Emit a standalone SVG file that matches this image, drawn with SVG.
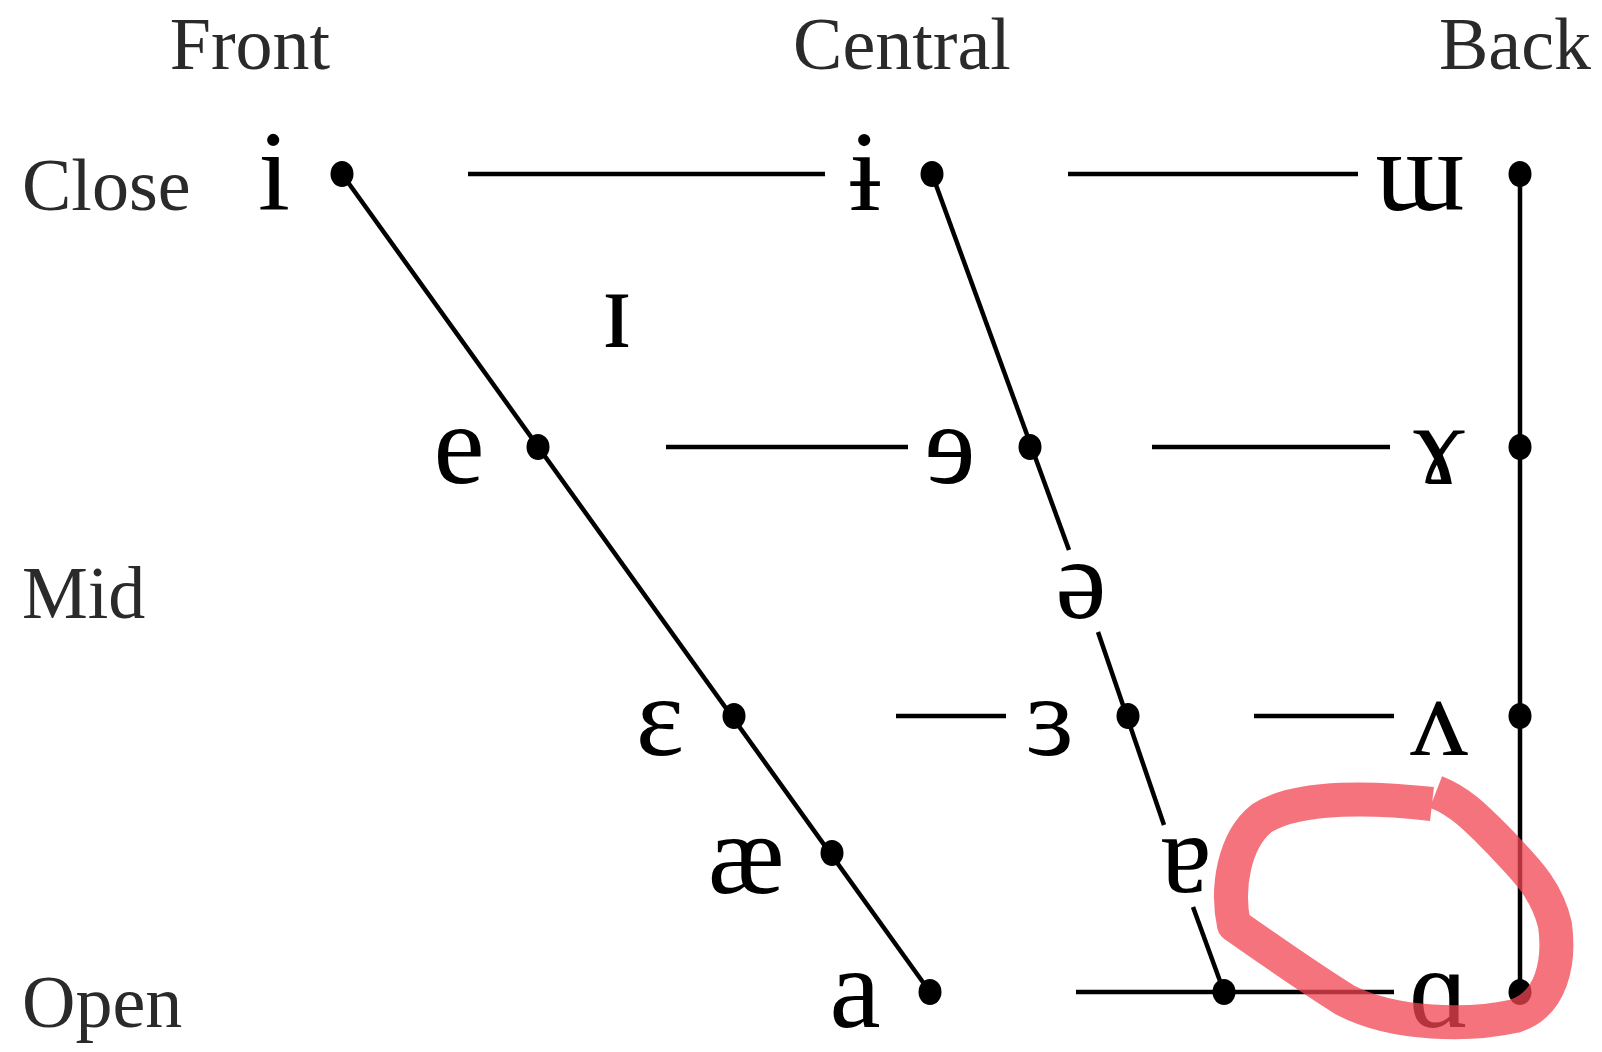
<svg xmlns="http://www.w3.org/2000/svg" width="1602" height="1052" viewBox="0 0 1602 1052">
<style>
.lbl{font-family:"Liberation Serif","DejaVu Serif",serif;font-size:74px;fill:#2a2a2a}
.v{font-family:"Liberation Serif","DejaVu Serif",serif;font-size:115px;fill:#000;text-anchor:middle}
.ln{stroke:#000;stroke-width:4.5;fill:none;stroke-linecap:butt}
.dot{fill:#000}
</style>
<rect width="1602" height="1052" fill="#fff"/>
<g id="headers">
<text class="lbl" x="250" y="69" text-anchor="middle">Front</text>
<text class="lbl" x="902" y="69" text-anchor="middle">Central</text>
<text class="lbl" x="1515" y="69" text-anchor="middle">Back</text>
<text class="lbl" x="22" y="210">Close</text>
<text class="lbl" x="22" y="618">Mid</text>
<text class="lbl" x="22" y="1027">Open</text>
</g>
<g id="connectors">
<line class="ln" x1="342" y1="174" x2="930" y2="992"/>
<line class="ln" x1="932" y1="174" x2="1069" y2="550"/>
<line class="ln" x1="1098" y1="632" x2="1164" y2="825"/>
<line class="ln" x1="1193" y1="907" x2="1224" y2="992"/>
<line class="ln" x1="1520" y1="174" x2="1520" y2="992"/>
<line class="ln" x1="468" y1="174" x2="825" y2="174"/>
<line class="ln" x1="1068" y1="174" x2="1358" y2="174"/>
<line class="ln" x1="666" y1="447" x2="908" y2="447"/>
<line class="ln" x1="1152" y1="447" x2="1390" y2="447"/>
<line class="ln" x1="896" y1="716" x2="1006" y2="716"/>
<line class="ln" x1="1254" y1="716" x2="1394" y2="716"/>
<line class="ln" x1="1076" y1="992" x2="1394" y2="992"/>
</g>
<g id="node-i"><text class="v" x="274" y="210">i</text><ellipse class="dot" cx="342" cy="174" rx="11.5" ry="13"/></g>
<g id="node-barred-i"><text class="v" x="865" y="210">ɨ</text><ellipse class="dot" cx="932" cy="174" rx="11.5" ry="13"/></g>
<g id="node-turned-m"><text class="v" x="1420" y="210">ɯ</text><ellipse class="dot" cx="1520" cy="174" rx="11.5" ry="13"/></g>
<g id="node-small-cap-i"><text class="v" x="617" y="347">ɪ</text></g>
<g id="node-e"><text class="v" x="459" y="483">e</text><ellipse class="dot" cx="538" cy="447" rx="11.5" ry="13"/></g>
<g id="node-reversed-e"><text class="v" x="950" y="483">ɘ</text><ellipse class="dot" cx="1030" cy="447" rx="11.5" ry="13"/></g>
<g id="node-rams-horn"><text class="v" x="1439" y="483">ɤ</text><ellipse class="dot" cx="1520" cy="447" rx="11.5" ry="13"/></g>
<g id="node-schwa"><text class="v" x="1081" y="618">ə</text></g>
<g id="node-open-e"><text class="v" x="660" y="755">ɛ</text><ellipse class="dot" cx="734" cy="716" rx="11.5" ry="13"/></g>
<g id="node-reversed-open-e"><text class="v" x="1050" y="755">ɜ</text><ellipse class="dot" cx="1128" cy="716" rx="11.5" ry="13"/></g>
<g id="node-turned-v"><text class="v" x="1439" y="755">ʌ</text><ellipse class="dot" cx="1520" cy="716" rx="11.5" ry="13"/></g>
<g id="node-ash"><text class="v" x="746" y="893">æ</text><ellipse class="dot" cx="832" cy="853" rx="11.5" ry="13"/></g>
<g id="node-turned-a"><text class="v" x="1186" y="892">ɐ</text></g>
<g id="node-a"><text class="v" x="855" y="1027">a</text><ellipse class="dot" cx="930" cy="992" rx="11.5" ry="13"/></g>
<g id="node-open-central"><ellipse class="dot" cx="1224" cy="992" rx="11.5" ry="13"/></g>
<g id="node-alpha"><text class="v" x="1439" y="1027">ɑ</text><ellipse class="dot" cx="1520" cy="992" rx="11.5" ry="13"/></g>
<g id="highlight">
<path d="M1432 804 C1380 798 1300 794 1262 818 C1234 840 1226 888 1234 925 C1270 950 1305 975 1345 1000 C1395 1026 1470 1026 1515 1016 C1552 1004 1560 962 1555 925 C1546 886 1520 864 1500 842 C1480 822 1462 802 1436 792" fill="none" stroke="#f04452" stroke-opacity="0.75" stroke-width="34" stroke-linecap="butt" stroke-linejoin="round"/>
</g>
</svg>
